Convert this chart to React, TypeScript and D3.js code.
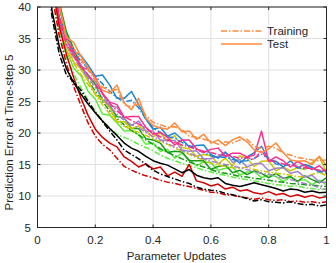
import React from "react";
import * as d3 from "d3";

const X_VALUES = [0.025, 0.05, 0.075, 0.1, 0.125, 0.15, 0.175, 0.2, 0.225, 0.25, 0.275, 0.3, 0.325, 0.35, 0.375, 0.4, 0.425, 0.45, 0.475, 0.5, 0.525, 0.55, 0.575, 0.6, 0.625, 0.65, 0.675, 0.7, 0.725, 0.75, 0.775, 0.8, 0.825, 0.85, 0.875, 0.9, 0.925, 0.95, 0.975, 1.0];

const BLACK_TEST = [52, 39.5, 33.8, 30.2, 28.0, 26.2, 24.6, 23.2, 21.9, 20.7, 19.6, 18.4, 17.6, 17.1, 16.3, 15.6, 15.2, 14.9, 14.3, 13.7, 14.2, 13.3, 12.9, 12.7, 12.9, 12.0, 11.7, 11.5, 11.8, 12.1, 11.8, 11.5, 11.2, 10.8, 11.1, 11.0, 10.6, 10.8, 10.5, 10.6];
const BLACK_TRAIN = [50, 38.5, 32.6, 29.2, 28.2, 26.8, 25.0, 23.3, 21.8, 20.3, 18.9, 17.3, 16.6, 15.9, 15.0, 14.1, 13.5, 13.1, 12.7, 12.3, 12.0, 11.4, 11.1, 10.9, 10.8, 10.4, 10.2, 9.9, 9.6, 9.2, 9.4, 9.1, 9.0, 8.9, 9.1, 8.8, 8.6, 8.7, 8.4, 8.6];
const RED_TEST = [58, 44, 37, 32.5, 28.8, 25.6, 22.8, 20.6, 19.3, 18.4, 17.8, 16.2, 15.5, 14.6, 15.1, 14.3, 14.6, 13.2, 13.8, 13.1, 15.0, 12.4, 12.1, 11.6, 11.9, 11.1, 11.4, 10.8, 11.0, 10.5, 10.3, 10.7, 10.2, 10.4, 9.9, 10.2, 9.8, 10.1, 9.7, 9.9];
const RED_TRAIN = [56, 42, 35.5, 31.0, 27.4, 24.4, 21.6, 19.5, 18.2, 17.3, 16.0, 14.7, 14.1, 13.6, 13.2, 12.9, 12.5, 12.2, 12.0, 11.7, 11.5, 11.2, 10.9, 10.6, 10.5, 10.2, 10.1, 9.9, 9.7, 9.5, 9.7, 9.4, 9.3, 9.4, 9.1, 9.2, 9.0, 9.1, 8.9, 9.1];
const ORANGE_TEST = [60, 48, 40.5, 35.2, 34.4, 32.2, 30.4, 28.6, 26.8, 26.3, 27.6, 24.8, 23.7, 25.5, 22.4, 21.2, 20.8, 20.6, 21.6, 20.2, 20.3, 19.0, 19.8, 18.4, 18.9, 18.0, 18.9, 19.4, 18.6, 17.3, 16.9, 17.5, 18.4, 16.9, 15.7, 15.5, 15.6, 15.0, 16.3, 14.8];
const ORANGE_TRAIN = [60, 47, 40.0, 34.8, 33.4, 31.7, 30.0, 28.3, 27.3, 26.7, 26.9, 24.5, 24.1, 24.6, 22.8, 21.7, 21.3, 20.9, 21.0, 20.5, 19.5, 19.3, 19.0, 18.7, 18.2, 18.6, 18.4, 18.9, 19.0, 17.9, 17.5, 17.9, 17.6, 16.8, 16.5, 16.1, 15.9, 15.7, 15.6, 15.7];
const BLUE_TEST = [58, 46, 38.5, 35.5, 33.0, 32.3, 30.8, 29.0, 29.2, 27.6, 25.5, 25.5, 26.6, 24.5, 22.2, 20.6, 20.9, 19.5, 20.0, 19.0, 17.8, 18.0, 18.1, 16.6, 16.0, 16.9, 16.1, 15.2, 16.2, 16.9, 17.9, 15.7, 15.5, 14.6, 15.6, 14.5, 15.0, 14.6, 13.8, 14.1];
const BLUE_TRAIN = [57, 45, 38.0, 34.8, 33.0, 31.4, 30.2, 29.0, 27.8, 26.6, 25.6, 24.9, 25.2, 24.0, 22.2, 20.8, 20.1, 19.4, 19.2, 18.5, 18.0, 17.4, 16.9, 16.4, 16.1, 16.2, 15.8, 15.5, 15.6, 16.0, 16.6, 16.0, 15.1, 14.8, 15.0, 14.5, 14.3, 14.5, 14.0, 13.6];
const PINK_TEST = [58, 46, 38.2, 35.0, 32.7, 30.5, 30.1, 28.9, 26.3, 24.9, 24.5, 22.5, 22.6, 22.6, 20.9, 19.8, 20.1, 19.3, 18.1, 18.9, 18.9, 17.5, 16.9, 17.4, 17.6, 16.3, 16.8, 16.8, 16.2, 16.5, 20.3, 15.5, 16.2, 15.6, 14.6, 15.5, 14.8, 14.2, 14.8, 13.8];
const PINK_TRAIN = [57, 45, 37.8, 34.2, 32.2, 30.6, 29.2, 27.7, 26.2, 24.7, 23.5, 22.6, 22.0, 21.4, 20.8, 20.0, 19.4, 18.9, 18.5, 18.1, 17.8, 17.4, 17.1, 16.9, 16.6, 16.4, 16.3, 16.0, 16.1, 15.8, 17.2, 15.6, 15.4, 15.1, 14.9, 14.7, 14.5, 14.3, 14.1, 13.8];
const PURPLE_TEST = [57, 45, 37.6, 34.8, 32.3, 30.9, 28.8, 28.2, 26.2, 24.3, 24.1, 22.3, 21.2, 21.9, 20.3, 20.3, 18.9, 18.8, 18.8, 17.3, 17.1, 17.2, 15.9, 15.9, 16.3, 17.0, 15.3, 15.8, 14.6, 15.1, 15.2, 14.0, 14.4, 14.5, 13.6, 13.9, 13.0, 13.3, 12.2, 12.2];
const PURPLE_TRAIN = [56, 44, 37.2, 33.9, 32.0, 30.2, 28.8, 27.2, 25.6, 24.2, 23.0, 22.0, 21.3, 20.8, 20.1, 19.4, 18.9, 18.3, 17.8, 17.2, 16.8, 16.3, 15.9, 15.5, 15.3, 15.0, 14.8, 14.5, 14.2, 13.9, 13.6, 13.5, 13.1, 12.9, 12.6, 12.3, 12.0, 11.7, 11.3, 11.0];
const YELLOW_TEST = [57, 45, 37.0, 33.9, 31.3, 30.2, 28.3, 26.1, 25.3, 24.0, 21.8, 21.8, 20.7, 21.1, 20.3, 19.4, 20.0, 18.7, 19.6, 17.7, 17.5, 16.3, 16.6, 16.4, 15.1, 16.0, 14.8, 16.4, 16.0, 14.7, 15.5, 15.6, 14.0, 14.6, 14.0, 14.5, 14.2, 15.3, 16.2, 13.8];
const YELLOW_TRAIN = [56, 44, 36.5, 33.1, 31.1, 29.3, 27.7, 26.1, 24.5, 23.0, 21.8, 21.1, 20.5, 20.1, 19.6, 19.1, 18.6, 18.2, 17.6, 17.1, 16.6, 16.1, 15.7, 15.2, 14.9, 14.7, 14.5, 14.4, 14.6, 14.2, 14.0, 13.8, 13.6, 13.5, 13.3, 13.1, 13.0, 13.4, 13.8, 13.2];
const GREEN_TEST = [62, 52, 40.8, 36.1, 33.4, 30.5, 29.2, 27.7, 25.2, 24.3, 22.6, 22.4, 20.7, 20.7, 19.1, 18.9, 18.4, 16.9, 17.1, 17.0, 15.6, 15.6, 15.6, 14.2, 14.7, 14.9, 13.7, 14.1, 13.4, 14.0, 13.6, 12.9, 13.6, 12.8, 13.1, 12.3, 13.2, 12.6, 12.1, 12.9];
const GREEN_TRAIN = [61, 51, 40.2, 35.2, 32.4, 30.2, 28.4, 26.6, 25.0, 23.5, 22.3, 21.3, 20.4, 19.7, 18.9, 18.2, 17.5, 16.9, 16.4, 15.9, 15.4, 15.0, 14.6, 14.2, 13.8, 13.6, 13.4, 13.1, 13.0, 12.8, 12.7, 12.5, 12.3, 12.2, 12.0, 11.9, 11.8, 11.7, 11.6, 11.5];
const LIME_TEST = [57, 44, 36.6, 33.2, 30.3, 29.1, 26.6, 25.4, 23.0, 22.8, 21.6, 20.3, 20.4, 19.7, 18.2, 18.4, 17.1, 17.4, 16.0, 16.8, 15.8, 14.8, 15.4, 15.3, 14.1, 14.4, 14.6, 13.3, 13.8, 13.9, 12.9, 13.4, 13.1, 12.3, 13.0, 12.4, 12.6, 11.8, 12.5, 11.8];
const LIME_TRAIN = [56, 43, 35.8, 32.0, 29.4, 27.2, 25.2, 23.4, 22.0, 20.8, 19.8, 19.3, 18.8, 18.2, 17.7, 17.2, 16.5, 16.0, 15.6, 15.2, 14.8, 14.5, 14.1, 13.8, 13.5, 13.3, 13.0, 12.8, 12.6, 12.4, 12.2, 12.0, 11.8, 11.7, 11.5, 11.6, 11.3, 11.2, 11.0, 11.1];

const SERIES_NAMES = ["lime", "green", "yellow", "purple", "blue", "pink", "orange", "red", "black"];
const SERIES_COLORS = ["#5ced3a", "#169a16", "#c9c900", "#a283c8", "#1b86d2", "#ff2d8e", "#ff8a3d", "#d20000", "#000000"];
const SERIES_TRAIN = [LIME_TRAIN, GREEN_TRAIN, YELLOW_TRAIN, PURPLE_TRAIN, BLUE_TRAIN, PINK_TRAIN, ORANGE_TRAIN, RED_TRAIN, BLACK_TRAIN];
const SERIES_TEST = [LIME_TEST, GREEN_TEST, YELLOW_TEST, PURPLE_TEST, BLUE_TEST, PINK_TEST, ORANGE_TEST, RED_TEST, BLACK_TEST];

const Y_TICKS = [5, 10, 15, 20, 25, 30, 35, 40];
const X_TICKS = [0, 0.2, 0.4, 0.6, 0.8, 1];
const LEGEND_LABELS = ["Training", "Test"];

const W = 336;
const H = 263;
const LEFT = 37.5;
const RIGHT = 326.5;
const TOP = 7;
const BOTTOM = 227.5;
const FONT = "'Liberation Sans', Arial, Helvetica, sans-serif";
const DASH = "6,2,1.5,2";

export default function App() {
  const x = d3.scaleLinear().domain([0, 1]).range([LEFT, RIGHT]);
  const y = d3.scaleLinear().domain([5, 40]).range([BOTTOM, TOP]);
  const line = d3
    .line<number>()
    .x((_, i) => x(X_VALUES[i]))
    .y((d) => y(d));

  const axisColor = "#262626";
  const tickLen = 3;

  return (
    <svg
      width={W}
      height={H}
      style={{ position: "absolute", left: 0, top: 0, background: "#fff" }}
      fontFamily={FONT}
    >
      <defs>
        <clipPath id="plotclip">
          <rect x={LEFT} y={TOP} width={RIGHT - LEFT} height={BOTTOM - TOP} />
        </clipPath>
      </defs>
      <rect x={0} y={0} width={W} height={H} fill="#fff" />
      {Y_TICKS.map((t) => (
        <line key={"gy" + t} x1={LEFT} x2={RIGHT} y1={y(t)} y2={y(t)} stroke="#e0e0e0" strokeWidth={1} />
      ))}
      {X_TICKS.map((t) => (
        <line key={"gx" + t} x1={x(t)} x2={x(t)} y1={TOP} y2={BOTTOM} stroke="#e0e0e0" strokeWidth={1} />
      ))}
      <g clipPath="url(#plotclip)" fill="none" strokeWidth={1.5} strokeLinejoin="round">
        {SERIES_NAMES.map((name, k) => (
          <g key={name}>
            <path d={line(SERIES_TRAIN[k]) || ""} stroke={SERIES_COLORS[k]} strokeDasharray={DASH} />
            <path d={line(SERIES_TEST[k]) || ""} stroke={SERIES_COLORS[k]} />
          </g>
        ))}
      </g>
      <rect x={LEFT} y={TOP} width={RIGHT - LEFT} height={BOTTOM - TOP} fill="none" stroke={axisColor} strokeWidth={1} />
      {Y_TICKS.map((t) => (
        <g key={"ty" + t}>
          <line x1={LEFT} x2={LEFT + tickLen} y1={y(t)} y2={y(t)} stroke={axisColor} />
          <line x1={RIGHT} x2={RIGHT - tickLen} y1={y(t)} y2={y(t)} stroke={axisColor} />
          <text x={LEFT - 6.5} y={y(t) + 4} textAnchor="end" fontSize={11.5} fill={axisColor}>
            {t}
          </text>
        </g>
      ))}
      {X_TICKS.map((t) => (
        <g key={"tx" + t}>
          <line x1={x(t)} x2={x(t)} y1={BOTTOM} y2={BOTTOM - tickLen} stroke={axisColor} />
          <line x1={x(t)} x2={x(t)} y1={TOP} y2={TOP + tickLen} stroke={axisColor} />
          <text x={x(t)} y={244} textAnchor="middle" fontSize={11.5} fill={axisColor}>
            {String(t)}
          </text>
        </g>
      ))}
      <text x={176.5} y={260} textAnchor="middle" fontSize={11.5} fill={axisColor}>
        Parameter Updates
      </text>
      <text transform="translate(13.3,132.5) rotate(-90)" textAnchor="middle" fontSize={11.5} fill={axisColor}>
        Prediction Error at Time-step 5
      </text>
      <g>
        <line x1={221} x2={262} y1={31} y2={31} stroke="#ff8a3d" strokeWidth={1.5} strokeDasharray={DASH} />
        <text x={267} y={35} fontSize={11.5} fill={axisColor}>
          {LEGEND_LABELS[0]}
        </text>
        <line x1={221} x2={262} y1={44} y2={44} stroke="#ff8a3d" strokeWidth={1.5} />
        <text x={267} y={48.3} fontSize={11.5} fill={axisColor}>
          {LEGEND_LABELS[1]}
        </text>
      </g>
    </svg>
  );
}
